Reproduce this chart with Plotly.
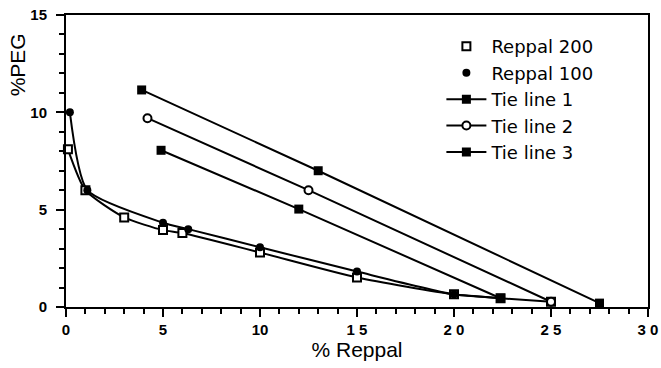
import plotly.graph_objects as go

# Binodal data
r200_x = [0.1, 1.0, 3.0, 5.0, 6.0, 10.0, 15.0, 20.0, 22.4, 25.0]
r200_y = [8.1, 6.0, 4.6, 3.95, 3.8, 2.8, 1.52, 0.65, 0.45, 0.27]
r100_x = [0.2, 1.1, 5.0, 6.3, 10.0, 15.0, 20.0, 22.4]
r100_y = [10.0, 6.0, 4.33, 4.0, 3.07, 1.82, 0.65, 0.45]

# Tie lines
tie1_x = [3.9, 13.0, 27.5]
tie1_y = [11.15, 7.0, 0.2]
tie2_x = [4.2, 12.5, 25.0]
tie2_y = [9.7, 6.0, 0.27]
tie3_x = [4.9, 12.0, 22.4]
tie3_y = [8.05, 5.03, 0.45]

x_tickvals = [0, 5, 10, 15, 20, 25, 30]
x_ticktext = ["0", "5", "10", "1 5", "2 0", "2 5", "3 0"]
y_tickvals = [0, 5, 10, 15]
y_ticktext = ["0", "5", "10", "15"]

FONT = "Liberation Sans, Arial, Helvetica, sans-serif"
LFONT = "DejaVu Sans, Liberation Sans, Arial, sans-serif"

fig = go.Figure()

# smooth binodal curves (no legend)
fig.add_trace(go.Scatter(x=r200_x, y=r200_y, mode="lines", line=dict(color="black", width=2, shape="spline", smoothing=0.6),
                         showlegend=False, hoverinfo="skip", cliponaxis=False))
fig.add_trace(go.Scatter(x=r100_x, y=r100_y, mode="lines", line=dict(color="black", width=2, shape="spline", smoothing=0.6),
                         showlegend=False, hoverinfo="skip", cliponaxis=False))

fig.add_trace(go.Scatter(x=r200_x, y=r200_y, mode="markers", name="Reppal 200",
                         marker=dict(symbol="square", size=8, color="white", line=dict(color="black", width=2)),
                         cliponaxis=False))
fig.add_trace(go.Scatter(x=r100_x, y=r100_y, mode="markers", name="Reppal 100",
                         marker=dict(symbol="circle", size=8, color="black"),
                         cliponaxis=False))
fig.add_trace(go.Scatter(x=tie1_x, y=tie1_y, mode="lines+markers", name="Tie line 1",
                         line=dict(color="black", width=2),
                         marker=dict(symbol="square", size=9, color="black"), cliponaxis=False))
fig.add_trace(go.Scatter(x=tie2_x, y=tie2_y, mode="lines+markers", name="Tie line 2",
                         line=dict(color="black", width=2),
                         marker=dict(symbol="circle", size=8, color="white", line=dict(color="black", width=2)), cliponaxis=False))
fig.add_trace(go.Scatter(x=tie3_x, y=tie3_y, mode="lines+markers", name="Tie line 3",
                         line=dict(color="black", width=2),
                         marker=dict(symbol="square", size=9, color="black"), cliponaxis=False))

fig.update_layout(
    width=661, height=368,
    margin=dict(l=66, r=13, t=15, b=61),
    paper_bgcolor="white", plot_bgcolor="white",
    font=dict(family=FONT, color="black", size=16),
    showlegend=True,
    legend=dict(x=0.645, y=0.955, xanchor="left", yanchor="top",
                bgcolor="rgba(0,0,0,0)", font=dict(size=18, family=LFONT),
                tracegroupgap=0, itemwidth=40),
    xaxis=dict(range=[0, 30], tickmode="array", tickvals=x_tickvals, ticktext=x_ticktext,
               automargin=False, ticklabeloverflow="allow",
               showline=True, linecolor="black", linewidth=2, mirror=True,
               ticks="outside", ticklen=8, tickwidth=2, tickcolor="black",
               minor=dict(dtick=1, ticks="outside", ticklen=5, tickwidth=1.5, tickcolor="black", showgrid=False),
               showgrid=False, zeroline=False,
               tickfont=dict(size=15, family=FONT, weight="bold"),
               title=dict(text="% Reppal", font=dict(size=21, family=FONT), standoff=4)),
    yaxis=dict(range=[0, 15], tickmode="array", tickvals=y_tickvals, ticktext=y_ticktext,
               automargin=False, ticklabeloverflow="allow",
               showline=True, linecolor="black", linewidth=2, mirror=True,
               ticks="outside", ticklen=8, tickwidth=2, tickcolor="black",
               ticklabelstandoff=6,
               minor=dict(dtick=1, ticks="outside", ticklen=5, tickwidth=1.5, tickcolor="black", showgrid=False),
               showgrid=False, zeroline=False,
               tickfont=dict(size=15, family=FONT, weight="bold")),
    annotations=[dict(text="%PEG", textangle=-90, xref="paper", yref="paper",
                      x=-0.083, y=0.83, xanchor="center", yanchor="middle",
                      showarrow=False, font=dict(size=21, family=FONT))],
)

# remove the browser's default 8px body margin so the figure sits at the page origin
fig.write_html("out.html", config={"displayModeBar": False},
               post_script="document.body.style.margin='0';document.body.style.overflow='hidden';")
